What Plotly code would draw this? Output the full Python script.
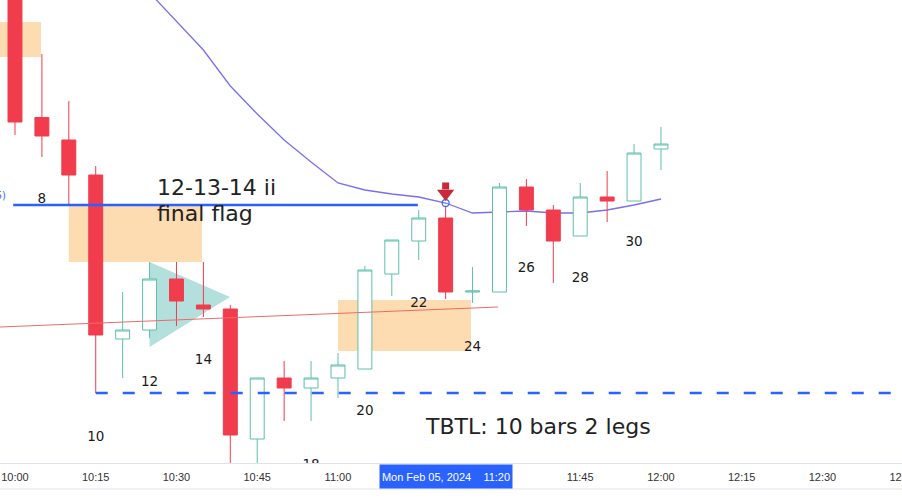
import plotly.graph_objects as go

# ---------------- data ----------------
times = ["10:00", "10:05", "10:10", "10:15", "10:20", "10:25", "10:30", "10:35", "10:40",
         "10:45", "10:50", "10:55", "11:00", "11:05", "11:10", "11:15", "11:20", "11:25",
         "11:30", "11:35", "11:40", "11:45", "11:50", "11:55", "12:00"]
opens = [4993.3, 4977.55, 4975.3, 4971.8, 4955.4, 4956.3, 4961.4, 4958.8, 4958.4,
         4945.4, 4951.5, 4950.5, 4951.5, 4952.4, 4961.9, 4965.2, 4967.5, 4960.1,
         4960.1, 4970.6, 4968.3, 4965.7, 4969.6, 4969.2, 4974.4]
highs = [4994.3, 4983.9, 4979.2, 4972.7, 4960.1, 4963.1, 4963.1, 4963.1, 4958.8,
         4951.5, 4953.2, 4953.2, 4954.0, 4962.7, 4965.3, 4968.3, 4968.6, 4962.6,
         4971.0, 4971.4, 4968.8, 4971.0, 4972.2, 4974.9, 4976.6]
lows = [4975.8, 4973.6, 4968.8, 4950.0, 4951.5, 4955.5, 4956.7, 4957.6, 4941.8,
        4942.1, 4947.2, 4947.2, 4949.5, 4952.4, 4959.7, 4963.3, 4959.4, 4959.0,
        4960.1, 4966.7, 4961.0, 4965.7, 4967.1, 4969.2, 4972.3]
closes = [4977.1, 4975.7, 4971.8, 4955.8, 4956.3, 4961.4, 4959.2, 4958.4, 4945.8,
          4951.5, 4950.5, 4951.5, 4952.8, 4962.3, 4965.3, 4967.5, 4960.1, 4960.2,
          4970.6, 4968.3, 4965.2, 4969.6, 4969.2, 4974.0, 4974.9]

ema_times = ["10:20", "10:25", "10:30", "10:35", "10:40", "10:45", "10:50", "10:55", "11:00",
             "11:05", "11:10", "11:15", "11:20", "11:25", "11:30", "11:35", "11:40", "11:45",
             "11:50", "11:55", "12:00"]
ema_values = [4992.9, 4990.0, 4987.2, 4984.3, 4980.7, 4977.9, 4975.3, 4973.1, 4971.0,
              4970.3, 4969.9, 4969.6, 4969.0, 4968.0, 4968.1, 4968.2, 4968.0, 4968.0,
              4968.3, 4968.8, 4969.4]

# trend line (red) endpoints
trend_times = ["09:57:13", "11:29:44"]
trend_values = [4956.6, 4958.6]

# horizontal levels
flag_level_times = ["09:59:40", "11:14:50"]
flag_level = 4968.8
tbtl_level_times = ["10:15", "12:50"]
tbtl_level = 4950.0

# bar count labels
count_labels = ["8", "10", "12", "14", "18", "20", "22", "24", "26", "28", "30"]
count_times = ["10:05", "10:15", "10:25", "10:35", "10:55", "11:05", "11:15", "11:25", "11:35", "11:45", "11:55"]
count_prices = [4969.3, 4945.5, 4951.0, 4953.2, 4942.7, 4948.1, 4958.9, 4954.5, 4962.4, 4961.4, 4965.0]

# zones (time0, time1, price0, price1)
zones = [("09:50", "10:04:50", 4983.6, 4987.1),
         ("10:10", "10:34:44", 4963.1, 4968.8),
         ("11:00", "11:24:42", 4954.2, 4959.3)]

# triangle flag marker
tri_times = ["10:25", "10:25", "10:39:56"]
tri_prices = [4963.1, 4954.6, 4959.6]

signal_time = "11:20"
signal_price = 4969.0

tick_labels = ["10:00", "10:15", "10:30", "10:45", "11:00", "11:45",
               "12:00", "12:15", "12:30", "12:45"]

DAY = "2024-02-05 "
d = lambda t: DAY + t

# figure is slightly wider than the window so the last time label is cut at the edge
x_range = [d("09:57:13"), d("12:48:07")]
y_range = [4943.0, 4989.3]

RED = "#f03c4d"
TEAL = "#5fbfac"
BLUE = "#2962ff"
PEACH = "#fddcb2"

fig = go.Figure()

# EMA on the base subplot (drawn below candles)
fig.add_trace(go.Scatter(x=[d(t) for t in ema_times], y=ema_values, mode="lines",
                         line=dict(color="#7a6ff0", width=1.3), hoverinfo="skip", showlegend=False))

ON_TOP = dict(xaxis="x2", yaxis="y2")

fig.add_trace(go.Candlestick(
    x=[d(t) for t in times], open=opens, high=highs, low=lows, close=closes,
    increasing=dict(line=dict(color=TEAL, width=1), fillcolor="white"),
    decreasing=dict(line=dict(color=RED, width=1), fillcolor=RED),
    whiskerwidth=0, showlegend=False, hoverinfo="skip", **ON_TOP))

# red trend line
fig.add_trace(go.Scatter(x=[d(t) for t in trend_times], y=trend_values, mode="lines",
                         line=dict(color="#ee6a6a", width=1), hoverinfo="skip", showlegend=False, **ON_TOP))

# flag level and TBTL dashed level
fig.add_trace(go.Scatter(x=[d(t) for t in flag_level_times], y=[flag_level] * 2, mode="lines",
                         line=dict(color=BLUE, width=2.5), hoverinfo="skip", showlegend=False, **ON_TOP))
fig.add_trace(go.Scatter(x=[d(t) for t in tbtl_level_times], y=[tbtl_level] * 2, mode="lines",
                         line=dict(color=BLUE, width=2.5, dash="12px,15px"),
                         hoverinfo="skip", showlegend=False, **ON_TOP))

# signal marker
fig.add_trace(go.Scatter(x=[d(signal_time)], y=[signal_price], mode="markers",
                         marker=dict(symbol="circle-open", size=7, color="#3d6bf0", line=dict(width=1.3)),
                         hoverinfo="skip", showlegend=False, **ON_TOP))
fig.add_trace(go.Scatter(x=[d(signal_time)], y=[signal_price + 1.7], mode="markers",
                         marker=dict(symbol="square", size=7, color="#c8283a"),
                         hoverinfo="skip", showlegend=False, **ON_TOP))
fig.add_trace(go.Scatter(x=[d(signal_time)], y=[signal_price + 0.95], mode="markers",
                         marker=dict(symbol="triangle-down", size=15, color="#c8283a"),
                         hoverinfo="skip", showlegend=False, **ON_TOP))

# count labels
fig.add_trace(go.Scatter(x=[d(t) for t in count_times], y=count_prices, mode="text",
                         text=count_labels, textposition="middle center",
                         textfont=dict(family="DejaVu Sans", size=13.5, color="#1a1a1a"),
                         hoverinfo="skip", showlegend=False, cliponaxis=True, **ON_TOP))

# cut-off price-scale label at left
fig.add_trace(go.Scatter(x=[d("09:58:20")], y=[4969.7], mode="text", text=["(5)"],
                         textposition="middle left",
                         textfont=dict(family="DejaVu Sans", size=10, color="#3d6bf0"),
                         hoverinfo="skip", showlegend=False, cliponaxis=True, **ON_TOP))

for (t0, t1, p0, p1) in zones:
    fig.add_shape(type="rect", xref="x", yref="y", x0=d(t0), x1=d(t1), y0=p0, y1=p1,
                  fillcolor=PEACH, line=dict(width=0), layer="below")

# triangle (below candles) as a path in data coordinates
pd_ = lambda t: (DAY + t).replace(" ", "_")
tri_path = "M {} {} L {} {} L {} {} Z".format(pd_(tri_times[0]), tri_prices[0],
                                              pd_(tri_times[1]), tri_prices[1],
                                              pd_(tri_times[2]), tri_prices[2])
fig.add_shape(type="path", xref="x", yref="y", path=tri_path,
              fillcolor="rgba(128,203,196,0.6)", line=dict(width=0), layer="below")

# axis area bottom border
fig.add_shape(type="line", xref="paper", yref="paper", x0=0, x1=1, y0=-26 / 463, y1=-26 / 463,
              line=dict(color="#e0e3eb", width=1))

TXT = dict(family="DejaVu Sans", size=22, color="#222222")
fig.add_annotation(x=d("10:26"), y=4970.6, text="12-13-14 ii", showarrow=False,
                   xanchor="left", yanchor="middle", font=TXT)
fig.add_annotation(x=d("10:26"), y=4968.0, text="final flag", showarrow=False,
                   xanchor="left", yanchor="middle", font=TXT)
fig.add_annotation(x=d("11:15:48"), y=4946.7, text="TBTL: 10 bars 2 legs", showarrow=False,
                   xanchor="left", yanchor="middle", font=TXT)

fig.add_annotation(x=d("11:20"), xref="x", yref="paper", y=-13 / 463, yanchor="middle",
                   text="Mon Feb 05, 2024\u00a0\u00a0\u00a0\u00a011:20", showarrow=False,
                   bgcolor=BLUE, width=130, height=21, borderpad=1,
                   font=dict(family="Liberation Sans", size=11, color="white"))

fig.update_layout(
    width=920, height=504,
    margin=dict(l=0, r=0, t=0, b=41, autoexpand=False),
    paper_bgcolor="white", plot_bgcolor="white",
    boxgap=0.26,
    showlegend=False,
    hovermode=False,
    xaxis=dict(type="date", range=x_range, rangeslider=dict(visible=False), automargin=False,
               tickvals=[d(t) for t in tick_labels], ticktext=tick_labels,
               showgrid=False, zeroline=False, showline=True, linecolor="#e0e3eb", linewidth=1,
               ticks="", tickfont=dict(family="Liberation Sans", size=11, color="#333333"),
               ticklabelstandoff=4),
    yaxis=dict(range=y_range, visible=False, showgrid=False, zeroline=False, automargin=False),
    xaxis2=dict(type="date", range=x_range, overlaying="x", matches="x", visible=False,
                rangeslider=dict(visible=False), automargin=False),
    yaxis2=dict(range=y_range, overlaying="y", matches="y", visible=False, automargin=False),
)

fig.write_html("out.html", config={"displayModeBar": False},
               post_script="document.body.style.margin='0';document.body.style.overflow='hidden';")
